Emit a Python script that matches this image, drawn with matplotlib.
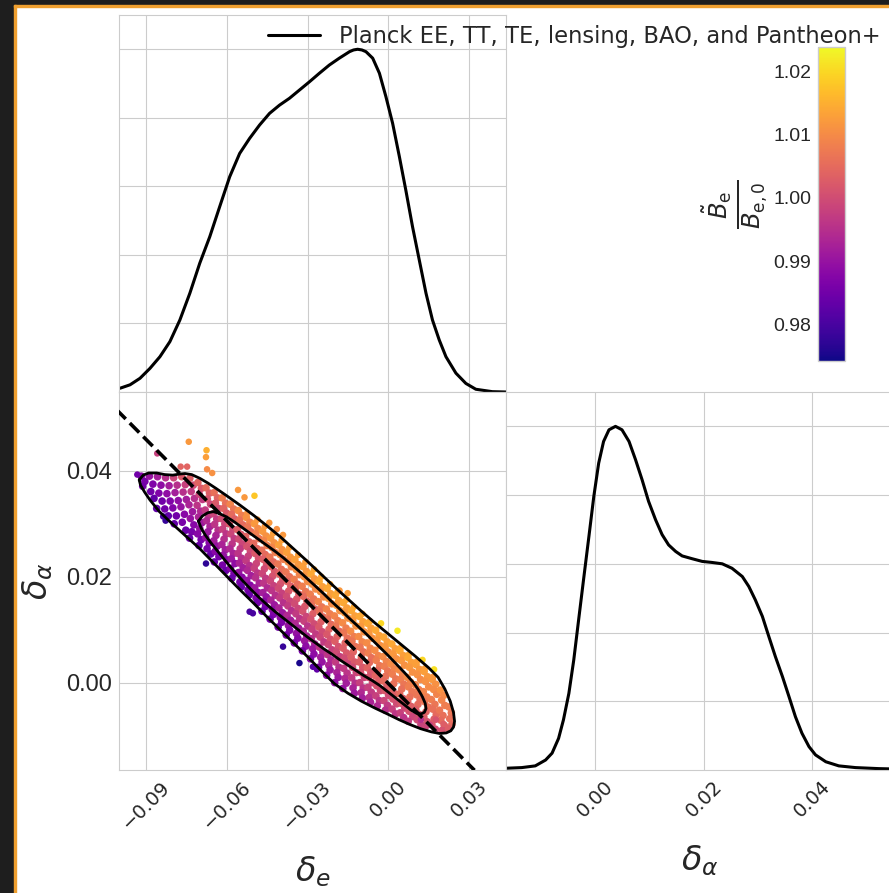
import numpy as np
import matplotlib
matplotlib.use('Agg')
import matplotlib.pyplot as plt
import seaborn as sns
from matplotlib.colors import Normalize
from matplotlib.lines import Line2D
from matplotlib.patches import Rectangle

sns.set_style('whitegrid')
plt.rcParams['font.family'] = ['Liberation Sans', 'DejaVu Sans']
plt.rcParams['mathtext.fontset'] = 'dejavusans'
plt.rcParams['text.color'] = '#262626'
plt.rcParams['xtick.color'] = '#262626'
plt.rcParams['ytick.color'] = '#262626'

# positions below are in units of 1e-3
legend_label = 'Planck EE, TT, TE, lensing, BAO, and Pantheon+'
de_ticks = [-0.09, -0.06, -0.03, 0.00, 0.03]
de_ticklabels = ['\u22120.09', '\u22120.06', '\u22120.03', '0.00', '0.03']
da_ticks = [0.00, 0.02, 0.04]
da_ticklabels = ['0.00', '0.02', '0.04']
cbar_ticks = [0.98, 0.99, 1.00, 1.01, 1.02]

# 1D marginal of delta_e
marg_de_x = [-99.6, -95.9, -92.2, -88.5, -84.8, -81.1, -77.4, -73.7, -70.0, -66.3, -62.6, -58.9,
             -55.2, -51.5, -47.8, -44.1, -40.4, -36.7, -33.0, -29.3, -25.6, -21.9, -18.2, -14.4,
             -12.9, -11.4, -9.8, -8.3, -5.8, -3.3, -0.9, 1.6, 4.1, 6.5, 9.0, 11.5, 14.0, 16.4,
             18.9, 21.4, 25.1, 28.8, 32.5, 38.6, 43.7]
marg_de_p = [0.011, 0.021, 0.040, 0.069, 0.103, 0.147, 0.210, 0.288, 0.376, 0.453, 0.541, 0.628,
             0.696, 0.740, 0.779, 0.813, 0.837, 0.857, 0.881, 0.905, 0.930, 0.954, 0.974, 0.993,
             0.998, 1.0, 0.998, 0.993, 0.974, 0.930, 0.862, 0.784, 0.687, 0.589, 0.482, 0.385,
             0.288, 0.210, 0.152, 0.103, 0.055, 0.025, 0.008, 0.001, 0.0]

# 1D marginal of delta_alpha
marg_da_x = [-16.6, -13.6, -11.1, -9.2, -8.0, -6.8, -5.9, -4.9, -4.0, -3.1, -2.2, -1.2, -0.3, 0.6,
             1.5, 2.5, 3.7, 4.9, 6.2, 7.4, 8.6, 9.8, 11.1, 12.3, 13.5, 14.8, 16.0, 17.8, 19.7, 21.5,
             23.4, 25.2, 27.1, 28.3, 29.5, 30.8, 32.0, 33.2, 34.5, 35.7, 36.9, 38.1, 39.4, 40.6,
             42.5, 44.9, 48.0, 52.3, 55.0]
marg_da_p = [0.005, 0.007, 0.012, 0.029, 0.049, 0.092, 0.146, 0.223, 0.320, 0.437, 0.553, 0.680,
             0.796, 0.893, 0.956, 0.990, 1.0, 0.990, 0.956, 0.903, 0.845, 0.782, 0.728, 0.685,
             0.655, 0.636, 0.623, 0.615, 0.607, 0.604, 0.600, 0.587, 0.563, 0.534, 0.495, 0.447,
             0.388, 0.330, 0.272, 0.214, 0.155, 0.107, 0.068, 0.044, 0.024, 0.012, 0.007, 0.004,
             0.003]

# 95% and 68% contours
outer_de = [-92.5, -91, -89, -86, -83, -80, -77.5, -75.5, -73, -70, -67, -64, -60, -55, -50, -45,
            -40, -35, -30, -25, -20, -15, -10, -5, 0, 5, 10, 15, 18.5, 21, 23, 24.2, 24.6, 24.2,
            23.2, 21.5, 19, 16, 12, 8, 4, 0, -5, -10, -15, -20, -25, -30, -35, -40, -45, -50,
            -55, -60, -65, -70, -75, -80, -85, -88.5, -90.5, -92, -92.5]
outer_da = [38.3, 39.2, 39.6, 39.6, 39.3, 39.2, 39.4, 39.5, 39.3, 38.6, 37.7, 36.7, 35.3, 33.5,
            31.6, 29.6, 27.5, 25.2, 22.9, 20.5, 18.1, 15.8, 13.5, 11.3, 9.2, 7.1, 5.0, 2.8, 1.0,
            -1.2, -3.5, -5.6, -7.3, -8.4, -9.1, -9.5, -9.6, -9.3, -8.7, -7.9, -7.0, -6.0, -4.8,
            -3.5, -2.0, -0.2, 2.3, 4.9, 7.4, 9.9, 12.4, 15.0, 17.5, 20.1, 22.7, 25.3, 27.6, 29.9,
            32.3, 34.5, 36.0, 37.3, 38.3]
inner_de = [-70.5, -69, -67, -65, -63, -60, -57, -54, -51, -48, -45, -42, -39, -36, -33, -30, -27,
            -24, -21, -18, -15, -12, -9, -6, -3, 0, 3, 6, 9, 11, 12.6, 13.7, 14.0, 13.4, 12.2, 10.5,
            8.5, 6, 3, 0, -3, -6, -9, -12, -15, -18, -21, -24, -27, -30, -33, -36, -39, -42, -45,
            -48, -51, -54, -57, -60, -63, -66, -68, -69.5, -70.5]
inner_da = [30.5, 31.5, 32.1, 32.3, 32.0, 31.3, 30.3, 29.2, 28.1, 27.0, 25.9, 24.8, 23.6, 22.3,
            21.0, 19.6, 18.2, 16.8, 15.3, 13.9, 12.4, 11.0, 9.6, 8.1, 6.6, 5.1, 3.5, 1.9, 0.2,
            -1.2, -2.6, -3.9, -4.9, -5.6, -5.9, -5.8, -5.2, -4.2, -3.0, -1.8, -0.6, 0.4, 1.3, 2.3,
            3.3, 4.3, 5.4, 6.4, 7.5, 8.6, 9.8, 11.0, 12.2, 13.4, 14.7, 16.1, 17.6, 19.2, 20.9,
            22.7, 24.6, 26.5, 27.9, 29.2, 30.5]

# degeneracy line
line_de = [-101, 32]
line_da = [51.6, -16.55]

# samples, one row per strip in delta_e; B_e ratio in units of 1e-3
core_de = [
    [-91.7, -90.4, -91.2],
    [-88.7, -87.4, -88.2, -87.0],
    [-85.7, -84.4, -85.2, -84.0, -86.0],
    [-82.7, -81.4, -82.2, -81.0, -83.0, -81.7],
    [-79.7, -78.4, -79.2, -78.0, -80.0, -78.7, -79.5],
    [-76.7, -75.4, -76.2, -75.0, -77.0, -75.7, -76.5, -75.2],
    [-73.7, -72.4, -73.2, -72.0, -74.0, -72.7, -73.5, -72.2, -73.0, -73.8],
    [-70.7, -69.4, -70.2, -69.0, -71.0, -69.7, -70.5, -69.2, -70.0, -70.8, -69.5, -70.3],
    [-67.7, -66.4, -67.2, -66.0, -68.0, -66.7, -67.5, -66.2, -67.0, -67.8, -66.5, -67.3, -65.9],
    [-64.7, -63.4, -64.2, -63.0, -65.0, -63.7, -64.5, -63.2, -64.0, -64.8, -63.5, -64.3, -62.9, -64.6],
    [-61.7, -60.4, -61.2, -60.0, -62.0, -60.7, -61.5, -60.2, -61.0, -61.8, -60.5, -61.3, -59.9, -61.6, -60.3],
    [-58.7, -57.4, -58.2, -57.0, -59.0, -57.7, -58.5, -57.2, -58.0, -58.8, -57.5, -58.3, -56.9, -58.6, -57.3, -58.1],
    [-55.7, -54.4, -55.2, -54.0, -56.0, -54.7, -55.5, -54.2, -55.0, -55.8, -54.5, -55.3, -53.9, -55.6, -54.3, -55.1, -54.6],
    [-52.7, -51.4, -52.2, -51.0, -53.0, -51.7, -52.5, -51.2, -52.0, -52.8, -51.5, -52.3, -50.9, -52.6, -51.3, -52.1, -51.6],
    [-49.7, -48.4, -49.2, -48.0, -50.0, -48.7, -49.5, -48.2, -49.0, -49.8, -48.5, -49.3, -47.9, -49.6, -48.3, -49.1, -48.6],
    [-46.7, -45.4, -46.2, -45.0, -47.0, -45.7, -46.5, -45.2, -46.0, -46.8, -45.5, -46.3, -44.9, -46.6, -45.3, -46.1, -45.6, -46.9],
    [-43.7, -42.4, -43.2, -42.0, -44.0, -42.7, -43.5, -42.2, -43.0, -43.8, -42.5, -43.3, -41.9, -43.6, -42.3, -43.1, -42.6, -43.9],
    [-40.7, -39.4, -40.2, -39.0, -41.0, -39.7, -40.5, -39.2, -40.0, -40.8, -39.5, -40.3, -38.9, -40.6, -39.3, -40.1, -39.6, -40.9],
    [-37.7, -36.4, -37.2, -36.0, -38.0, -36.7, -37.5, -36.2, -37.0, -37.8, -36.5, -37.3, -35.9, -37.6, -36.3, -37.1, -36.6, -37.9],
    [-34.7, -33.4, -34.2, -33.0, -35.0, -33.7, -34.5, -33.2, -34.0, -34.8, -33.5, -34.3, -32.9, -34.6, -33.3, -34.1, -33.6, -34.9],
    [-31.7, -30.4, -31.2, -30.0, -32.0, -30.7, -31.5, -30.2, -31.0, -31.8, -30.5, -31.3, -29.9, -31.6, -30.3, -31.1, -30.6, -31.9],
    [-28.7, -27.4, -28.2, -27.0, -29.0, -27.7, -28.5, -27.2, -28.0, -28.8, -27.5, -28.3, -26.9, -28.6, -27.3, -28.1, -27.6, -28.9],
    [-25.7, -24.4, -25.2, -24.0, -26.0, -24.7, -25.5, -24.2, -25.0, -25.8, -24.5, -25.3, -23.9, -25.6, -24.3, -25.1, -24.6, -25.9],
    [-22.7, -21.4, -22.2, -21.0, -23.0, -21.7, -22.5, -21.2, -22.0, -22.8, -21.5, -22.3, -20.9, -22.6, -21.3, -22.1, -21.6, -22.9],
    [-19.7, -18.4, -19.2, -18.0, -20.0, -18.7, -19.5, -18.2, -19.0, -19.8, -18.5, -19.3, -17.9, -19.6, -18.3, -19.1, -18.6, -19.9],
    [-16.7, -15.4, -16.2, -15.0, -17.0, -15.7, -16.5, -15.2, -16.0, -16.8, -15.5, -16.3, -14.9, -16.6, -15.3, -16.1, -15.6, -16.9],
    [-13.7, -12.4, -13.2, -12.0, -14.0, -12.7, -13.5, -12.2, -13.0, -13.8, -12.5, -13.3, -11.9, -13.6, -12.3, -13.1, -12.6],
    [-10.7, -9.4, -10.2, -9.0, -11.0, -9.7, -10.5, -9.2, -10.0, -10.8, -9.5, -10.3, -8.9, -10.6, -9.3, -10.1, -9.6],
    [-7.7, -6.4, -7.2, -6.0, -8.0, -6.7, -7.5, -6.2, -7.0, -7.8, -6.5, -7.3, -5.9, -7.6, -6.3, -7.1, -6.6],
    [-4.7, -3.4, -4.2, -3.0, -5.0, -3.7, -4.5, -3.2, -4.0, -4.8, -3.5, -4.3, -2.9, -4.6, -3.3, -4.1],
    [-1.7, -0.4, -1.2, 0.0, -2.0, -0.7, -1.5, -0.2, -1.0, -1.8, -0.5, -1.3, 0.1, -1.6, -0.3, -1.1],
    [1.3, 2.6, 1.8, 3.0, 1.0, 2.3, 1.5, 2.8, 2.0, 1.2, 2.5, 1.7, 3.1, 1.4, 2.7],
    [4.3, 5.6, 4.8, 6.0, 4.0, 5.3, 4.5, 5.8, 5.0, 4.2, 5.5, 4.7, 6.1, 4.4, 5.7],
    [7.3, 8.6, 7.8, 9.0, 7.0, 8.3, 7.5, 8.8, 8.0, 7.2, 8.5, 7.7, 9.1, 7.4],
    [10.3, 11.6, 10.8, 12.0, 10.0, 11.3, 10.5, 11.8, 11.0, 10.2, 11.5, 10.7, 12.1],
    [13.3, 14.6, 13.8, 15.0, 13.0, 14.3, 13.5, 14.8, 14.0, 13.2, 14.5, 13.7],
    [16.3, 17.6, 16.8, 18.0, 16.0, 17.3, 16.5, 17.8, 17.0, 16.2, 17.5],
    [19.3, 20.6, 19.8, 21.0, 19.0, 20.3, 19.5, 20.8, 20.0],
    [22.5, 23.4, 22.8, 23.6, 22.4],
]
core_da = [
    [39.0, 38.0, 37.1],
    [39.0, 37.5, 36.1, 34.8],
    [38.9, 37.3, 35.8, 34.3, 32.9],
    [38.7, 37.2, 35.7, 34.3, 32.8, 31.5],
    [38.7, 37.3, 35.9, 34.4, 33.0, 31.5, 30.0],
    [38.9, 37.4, 36.0, 34.6, 33.2, 31.8, 30.3, 28.8],
    [38.6, 37.3, 36.1, 34.8, 33.6, 32.3, 31.0, 29.8, 28.5, 27.3],
    [37.8, 36.7, 35.6, 34.6, 33.5, 32.4, 31.3, 30.2, 29.1, 28.1, 27.0, 25.9],
    [36.8, 35.8, 34.7, 33.7, 32.6, 31.6, 30.6, 29.5, 28.5, 27.4, 26.4, 25.3, 24.3],
    [35.9, 34.9, 33.9, 32.9, 31.9, 30.9, 29.9, 28.8, 27.8, 26.8, 25.8, 24.8, 23.8, 22.8],
    [34.9, 33.9, 32.9, 32.0, 31.0, 30.0, 29.0, 28.1, 27.1, 26.1, 25.1, 24.1, 23.2, 22.2, 21.2],
    [33.7, 32.8, 31.8, 30.9, 30.0, 29.0, 28.1, 27.2, 26.2, 25.3, 24.4, 23.4, 22.5, 21.6, 20.6, 19.7],
    [32.5, 31.6, 30.7, 29.8, 28.9, 28.0, 27.1, 26.2, 25.3, 24.4, 23.5, 22.6, 21.7, 20.8, 19.9, 19.0, 18.1],
    [31.2, 30.3, 29.4, 28.5, 27.6, 26.6, 25.7, 24.8, 23.9, 23.0, 22.1, 21.2, 20.2, 19.3, 18.4, 17.5, 16.6],
    [30.0, 29.1, 28.1, 27.2, 26.3, 25.3, 24.4, 23.5, 22.5, 21.6, 20.7, 19.8, 18.8, 17.9, 17.0, 16.0, 15.1],
    [28.6, 27.7, 26.8, 25.9, 25.0, 24.2, 23.3, 22.4, 21.5, 20.6, 19.7, 18.8, 17.9, 17.0, 16.2, 15.3, 14.4, 13.5],
    [27.3, 26.4, 25.5, 24.6, 23.7, 22.8, 21.9, 21.0, 20.1, 19.2, 18.3, 17.4, 16.5, 15.6, 14.7, 13.8, 12.9, 12.0],
    [26.0, 25.1, 24.2, 23.3, 22.4, 21.4, 20.5, 19.6, 18.7, 17.8, 16.9, 16.0, 15.1, 14.1, 13.2, 12.3, 11.4, 10.5],
    [24.6, 23.7, 22.8, 21.9, 20.9, 20.0, 19.1, 18.2, 17.3, 16.3, 15.4, 14.5, 13.6, 12.7, 11.8, 10.8, 9.9, 9.0],
    [23.2, 22.3, 21.4, 20.4, 19.5, 18.6, 17.7, 16.7, 15.8, 14.9, 14.0, 13.0, 12.1, 11.2, 10.3, 9.3, 8.4, 7.5],
    [21.9, 21.0, 20.0, 19.1, 18.2, 17.2, 16.3, 15.4, 14.4, 13.5, 12.5, 11.6, 10.7, 9.7, 8.8, 7.9, 6.9, 6.0],
    [20.5, 19.6, 18.6, 17.7, 16.7, 15.8, 14.9, 13.9, 13.0, 12.0, 11.1, 10.1, 9.2, 8.3, 7.3, 6.4, 5.4, 4.5],
    [19.1, 18.1, 17.2, 16.2, 15.3, 14.3, 13.4, 12.4, 11.5, 10.5, 9.6, 8.6, 7.7, 6.7, 5.8, 4.8, 3.9, 2.9],
    [17.8, 16.8, 15.9, 14.9, 13.9, 13.0, 12.0, 11.0, 10.1, 9.1, 8.2, 7.2, 6.2, 5.3, 4.3, 3.3, 2.4, 1.4],
    [16.5, 15.5, 14.6, 13.6, 12.6, 11.7, 10.7, 9.7, 8.7, 7.8, 6.8, 5.8, 4.9, 3.9, 2.9, 1.9, 1.0, 0.0],
    [15.1, 14.1, 13.2, 12.2, 11.3, 10.3, 9.4, 8.4, 7.5, 6.5, 5.6, 4.6, 3.7, 2.7, 1.8, 0.8, -0.1, -1.1],
    [13.6, 12.6, 11.7, 10.7, 9.7, 8.7, 7.8, 6.8, 5.8, 4.8, 3.9, 2.9, 1.9, 0.9, -0.1, -1.0, -2.0],
    [12.5, 11.5, 10.6, 9.6, 8.7, 7.7, 6.7, 5.8, 4.8, 3.9, 2.9, 1.9, 1.0, 0.0, -1.0, -1.9, -2.9],
    [11.2, 10.3, 9.3, 8.4, 7.5, 6.5, 5.6, 4.7, 3.8, 2.8, 1.9, 1.0, 0.0, -0.9, -1.8, -2.8, -3.7],
    [9.9, 8.9, 8.0, 7.0, 6.1, 5.1, 4.2, 3.2, 2.3, 1.3, 0.4, -0.6, -1.5, -2.5, -3.4, -4.4],
    [8.6, 7.7, 6.8, 5.8, 4.9, 4.0, 3.1, 2.2, 1.2, 0.3, -0.6, -1.5, -2.4, -3.4, -4.3, -5.2],
    [7.3, 6.4, 5.4, 4.5, 3.5, 2.6, 1.6, 0.7, -0.2, -1.2, -2.1, -3.1, -4.0, -5.0, -5.9],
    [6.0, 5.1, 4.2, 3.3, 2.4, 1.5, 0.6, -0.3, -1.2, -2.1, -3.0, -3.9, -4.8, -5.7, -6.6],
    [4.7, 3.8, 2.9, 2.0, 1.0, 0.1, -0.8, -1.7, -2.7, -3.6, -4.5, -5.4, -6.4, -7.3],
    [3.4, 2.5, 1.5, 0.6, -0.4, -1.3, -2.3, -3.2, -4.1, -5.1, -6.0, -7.0, -7.9],
    [2.1, 1.1, 0.2, -0.8, -1.7, -2.7, -3.6, -4.6, -5.5, -6.5, -7.4, -8.4],
    [0.6, -0.3, -1.3, -2.2, -3.2, -4.1, -5.0, -6.0, -6.9, -7.9, -8.8],
    [-1.4, -2.4, -3.3, -4.3, -5.2, -6.2, -7.1, -8.1, -9.0],
    [-4.6, -5.7, -6.8, -7.9, -8.7],
]
core_ratio = [
    [988, 986, 985],
    [990, 987, 985, 983],
    [992, 989, 987, 985, 983],
    [995, 992, 989, 987, 985, 983],
    [999, 995, 992, 989, 987, 985, 983],
    [1002, 998, 995, 992, 990, 988, 986, 984],
    [1003, 1000, 997, 995, 993, 991, 990, 988, 986, 984],
    [1004, 1002, 999, 997, 996, 994, 993, 991, 990, 988, 986, 984],
    [1005, 1003, 1001, 999, 997, 996, 994, 993, 991, 990, 988, 986, 984],
    [1006, 1004, 1002, 1000, 999, 997, 996, 995, 993, 992, 990, 988, 986, 984],
    [1008, 1006, 1004, 1002, 1000, 999, 998, 996, 995, 993, 992, 990, 988, 986, 984],
    [1009, 1007, 1005, 1003, 1002, 1000, 999, 997, 996, 994, 993, 991, 989, 988, 986, 984],
    [1010, 1008, 1006, 1005, 1003, 1002, 1000, 999, 997, 996, 995, 993, 992, 990, 988, 986, 984],
    [1011, 1009, 1007, 1006, 1004, 1003, 1001, 1000, 998, 997, 995, 994, 992, 990, 988, 986, 984],
    [1012, 1010, 1008, 1007, 1005, 1004, 1002, 1001, 999, 998, 996, 995, 993, 991, 989, 987, 985],
    [1012, 1011, 1009, 1008, 1006, 1005, 1003, 1002, 1000, 999, 997, 996, 994, 992, 990, 988, 986, 984],
    [1012, 1011, 1009, 1008, 1007, 1005, 1004, 1002, 1001, 999, 998, 996, 995, 993, 991, 989, 987, 985],
    [1013, 1011, 1010, 1008, 1007, 1006, 1004, 1003, 1001, 1000, 998, 997, 995, 993, 991, 989, 987, 985],
    [1013, 1012, 1010, 1009, 1007, 1006, 1004, 1003, 1002, 1000, 999, 997, 995, 994, 992, 990, 988, 986],
    [1013, 1012, 1011, 1009, 1008, 1006, 1005, 1003, 1002, 1000, 999, 997, 996, 994, 992, 990, 988, 986],
    [1013, 1012, 1011, 1010, 1008, 1007, 1005, 1004, 1002, 1001, 999, 998, 996, 994, 993, 991, 989, 986],
    [1014, 1012, 1011, 1010, 1008, 1007, 1006, 1004, 1003, 1001, 1000, 998, 997, 995, 993, 991, 989, 987],
    [1014, 1013, 1011, 1010, 1009, 1007, 1006, 1005, 1003, 1002, 1000, 999, 997, 996, 994, 992, 990, 987],
    [1014, 1013, 1012, 1010, 1009, 1008, 1006, 1005, 1004, 1002, 1001, 999, 998, 996, 994, 993, 991, 988],
    [1014, 1013, 1012, 1011, 1009, 1008, 1007, 1005, 1004, 1003, 1001, 1000, 998, 997, 995, 993, 991, 989],
    [1014, 1013, 1012, 1011, 1010, 1008, 1007, 1006, 1004, 1003, 1002, 1000, 999, 997, 996, 994, 992, 990],
    [1014, 1013, 1012, 1011, 1010, 1008, 1007, 1006, 1004, 1003, 1002, 1000, 999, 997, 995, 993, 991],
    [1014, 1013, 1012, 1011, 1010, 1009, 1007, 1006, 1005, 1003, 1002, 1001, 999, 998, 996, 994, 992],
    [1014, 1013, 1012, 1011, 1010, 1009, 1008, 1006, 1005, 1004, 1002, 1001, 1000, 998, 997, 995, 993],
    [1014, 1013, 1012, 1011, 1010, 1009, 1008, 1007, 1005, 1004, 1003, 1001, 1000, 998, 996, 994],
    [1014, 1013, 1012, 1011, 1010, 1009, 1008, 1007, 1006, 1005, 1003, 1002, 1000, 999, 997, 995],
    [1014, 1013, 1012, 1011, 1010, 1009, 1008, 1007, 1006, 1004, 1003, 1001, 1000, 998, 996],
    [1014, 1013, 1012, 1011, 1010, 1009, 1008, 1007, 1006, 1005, 1003, 1002, 1000, 998, 996],
    [1014, 1013, 1012, 1011, 1010, 1009, 1008, 1007, 1006, 1004, 1003, 1001, 999, 997],
    [1013, 1012, 1011, 1010, 1009, 1008, 1007, 1006, 1005, 1003, 1002, 1000, 998],
    [1013, 1012, 1011, 1010, 1009, 1008, 1007, 1006, 1004, 1003, 1001, 999],
    [1012, 1011, 1010, 1009, 1008, 1007, 1006, 1005, 1003, 1002, 1000],
    [1011, 1010, 1009, 1008, 1007, 1006, 1005, 1003, 1001],
    [1008, 1007, 1006, 1005, 1003],
]

# samples along the upper rim of the 95% region
rim_de = [-52.4, -48.6, -45.9, -42.8, -39.6, -36.8, -33.5, -30.8, -27.6, -24.9, -21.6, -18.8,
          -15.5, -12.8, -9.6, -6.8, 4.6, 7.6, 10.6, 13.6, 16.6]
rim_da = [32.0, 30.8, 29.5, 28.2, 26.9, 25.5, 24.1, 22.8, 21.4, 20.0, 18.6, 17.2,
          15.7, 14.3, 13.0, 11.6, 6.6, 5.3, 4.0, 2.7, 1.1]
rim_ratio = [1011, 1012, 1012, 1013, 1013, 1013, 1013, 1013, 1014, 1014, 1014, 1014,
             1014, 1014, 1014, 1014, 1014, 1014, 1013, 1013, 1012]

# scattered samples away from the bulk
outlier_de = [-93.2, -85.8, -77.1, -74.7, -74.1, -67.5, -67.7, -67.3, -65.4, -55.8, -53.4, -49.7,
              -44.2, -41.4, -39.1, -82.7, -83.6, -67.7, -51.5, -50.3, -39.1, -33.0, -28.0, -26.5,
              -2.7, 3.4, 12.7, 17.0, -18.1, -15.1, 17.7, 12.1, 20.5, 15.5]
outlier_da = [39.3, 43.3, 40.8, 40.8, 45.5, 43.9, 42.6, 40.3, 39.6, 36.4, 35.0, 35.3,
              30.2, 29.0, 27.9, 30.6, 31.4, 22.5, 13.4, 13.1, 6.8, 3.7, 3.0, 2.5,
              11.2, 9.8, 4.3, 2.5, 17.4, 16.9, -7.0, -7.0, -7.8, -8.0]
outlier_ratio = [985, 998, 1004, 1004, 1012, 1015, 1013, 1010, 1011, 1012, 1012, 1018,
                 1012, 1011, 1012, 978, 980, 977, 980, 980, 978, 975, 982, 983,
                 1020, 1022, 1020, 1021, 1012, 1013, 1001, 995, 1003, 998]

s = 1e-3
flat = lambda rows: np.array([v for r in rows for v in r], dtype=float)
core_x, core_y, core_c = flat(core_de) * s, flat(core_da) * s, flat(core_ratio) * s
edge_x = np.array(rim_de + outlier_de) * s
edge_y = np.array(rim_da + outlier_da) * s
edge_c = np.array(rim_ratio + outlier_ratio) * s

W, H = 889, 893
fig = plt.figure(figsize=(W / 100, H / 100), dpi=100)
fig.patch.set_facecolor('white')

def box(l, t, r, b):
    return [l / W, (H - b) / H, (r - l) / W, (b - t) / H]

ax_top = fig.add_axes(box(119, 15, 506, 392))
ax_2d = fig.add_axes(box(119, 392, 506, 770))
ax_right = fig.add_axes(box(506, 392, 893, 770))
cax = fig.add_axes(box(818, 47, 845, 361))

de_lim = (-0.1, 0.0437)
da_lim = (-0.0165, 0.0549)

ax_top.plot(np.array(marg_de_x) * s, marg_de_p, color='k', lw=2.2)
ax_top.set_xlim(de_lim)
ax_top.set_ylim(0, 1.1)
ax_top.set_xticks(de_ticks)
ax_top.set_yticks([0.2, 0.4, 0.6, 0.8, 1.0])
ax_top.set_xticklabels([])
ax_top.set_yticklabels([])

norm = Normalize(vmin=0.9742, vmax=1.0239)
sc = ax_2d.scatter(core_x, core_y, c=core_c, cmap='plasma', norm=norm, s=30, linewidths=0, zorder=2)
ax_2d.scatter(edge_x, edge_y, c=edge_c, cmap='plasma', norm=norm, s=22, linewidths=0, zorder=2)
ax_2d.plot(np.array(outer_de) * s, np.array(outer_da) * s, color='k', lw=2.0, zorder=3)
ax_2d.plot(np.array(inner_de) * s, np.array(inner_da) * s, color='k', lw=2.0, zorder=3)
ax_2d.plot(np.array(line_de) * s, np.array(line_da) * s, color='k', ls='--', lw=2.6, zorder=4)
ax_2d.set_xlim(de_lim)
ax_2d.set_ylim(da_lim)
ax_2d.set_xticks(de_ticks)
ax_2d.set_xticklabels(de_ticklabels, rotation=45, fontsize=14, family='DejaVu Sans')
ax_2d.set_yticks(da_ticks)
ax_2d.set_yticklabels(da_ticklabels, fontsize=17)
ax_2d.set_xlabel(r'$\delta_e$', fontsize=24, labelpad=16)
ax_2d.set_ylabel(r'$\delta_\alpha$', fontsize=24, labelpad=8)

ax_right.plot(np.array(marg_da_x) * s, marg_da_p, color='k', lw=2.2)
ax_right.set_xlim(da_lim)
ax_right.set_ylim(0, 1.1)
ax_right.set_xticks(da_ticks)
ax_right.set_xticklabels(da_ticklabels, rotation=45, fontsize=14, family='DejaVu Sans')
ax_right.set_yticks([0.2, 0.4, 0.6, 0.8, 1.0])
ax_right.set_yticklabels([])
ax_right.set_xlabel(r'$\delta_\alpha$', fontsize=24, labelpad=16)

for ax in (ax_top, ax_2d, ax_right):
    ax.tick_params(length=0, pad=5)

cb = fig.colorbar(sc, cax=cax)
cax.grid(False)
cb.set_ticks(cbar_ticks)
cb.set_ticklabels(['%.2f' % v for v in cbar_ticks])
cax.yaxis.set_ticks_position('left')
cax.yaxis.set_label_position('left')
cax.tick_params(length=0, labelsize=14, pad=5)
cb.outline.set_edgecolor('#cccccc')
cb.outline.set_linewidth(1)
cb.set_label(r'$\frac{\tilde{B}_\mathrm{e}}{B_{\mathrm{e},0}}$', fontsize=25, labelpad=2)

fig.legend([Line2D([], [], color='k', lw=2.2)], [legend_label], loc='upper left',
           bbox_to_anchor=(268 / W, 1 - 25 / H), bbox_transform=fig.transFigure,
           frameon=False, prop={'family': 'DejaVu Sans', 'size': 16.3},
           handlelength=2.3, handletextpad=0.82, borderpad=0, borderaxespad=0)

# dark window frame
fig.add_artist(Rectangle((0, 0), 14 / W, 1, transform=fig.transFigure, color='#1e1e1e', zorder=10))
fig.add_artist(Rectangle((0, 1 - 5 / H), 1, 5 / H, transform=fig.transFigure, color='#1e1e1e', zorder=10))
fig.add_artist(Rectangle((14 / W, 0), 2 / W, 1 - 5 / H, transform=fig.transFigure, color='#f0a030', zorder=11))
fig.add_artist(Rectangle((14 / W, 1 - 7 / H), 1, 2 / H, transform=fig.transFigure, color='#f0a030', zorder=11))

fig.savefig('out.png', dpi=100)
